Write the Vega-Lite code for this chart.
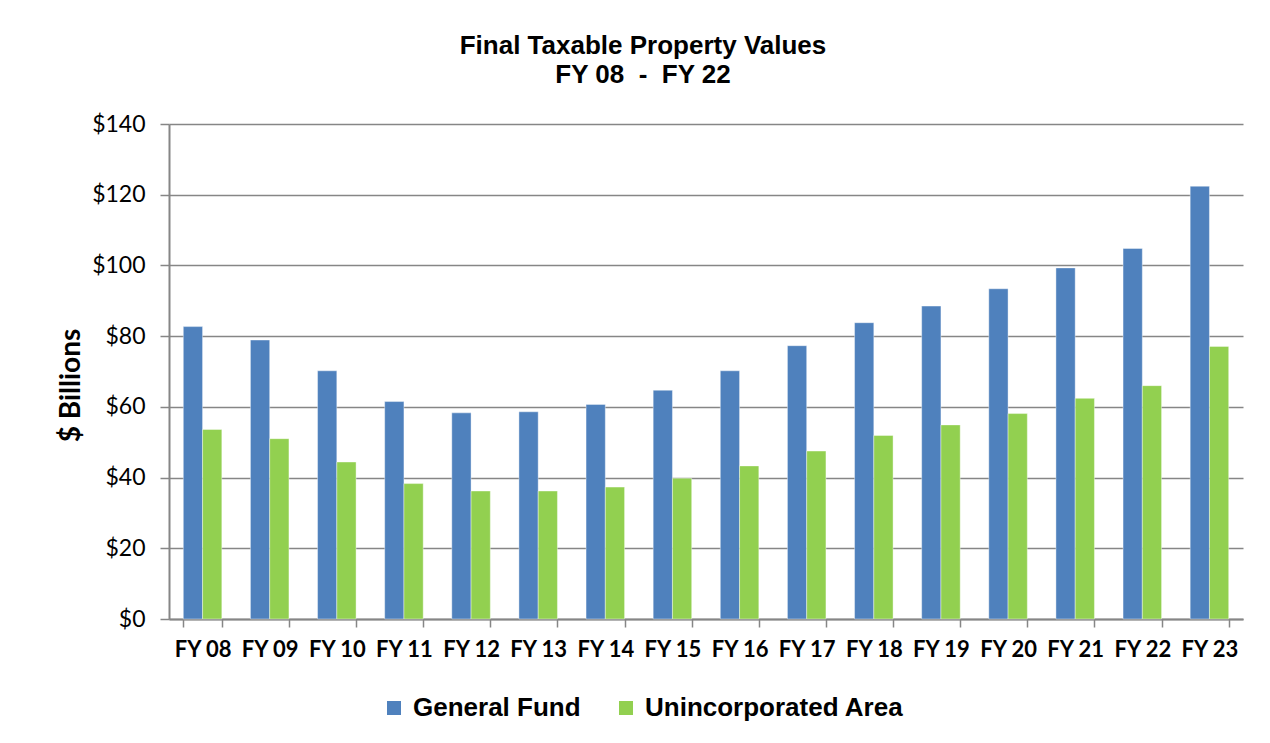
{
  "$schema": "https://vega.github.io/schema/vega-lite/v6.json",
  "autosize": {"type": "none"},
  "width": 1074,
  "height": 495,
  "padding": {"left": 169, "top": 124, "right": 27, "bottom": 124},
  "background": "white",
  "title": {
    "text": ["Final Taxable Property Values", "FY 08\u00a0 -\u00a0 FY 22"],
    "font": "Liberation Sans",
    "fontSize": 26,
    "fontWeight": "bold",
    "lineHeight": 29,
    "color": "black",
    "anchor": "middle",
    "frame": "group",
    "dx": -63,
    "offset": 25
  },
  "data": {
    "values": [
      {"fy": "FY 08", "series": "General Fund", "value": 82.7},
      {"fy": "FY 08", "series": "Unincorporated Area", "value": 53.6},
      {"fy": "FY 09", "series": "General Fund", "value": 78.9},
      {"fy": "FY 09", "series": "Unincorporated Area", "value": 51.0},
      {"fy": "FY 10", "series": "General Fund", "value": 70.2},
      {"fy": "FY 10", "series": "Unincorporated Area", "value": 44.4},
      {"fy": "FY 11", "series": "General Fund", "value": 61.5},
      {"fy": "FY 11", "series": "Unincorporated Area", "value": 38.3},
      {"fy": "FY 12", "series": "General Fund", "value": 58.3},
      {"fy": "FY 12", "series": "Unincorporated Area", "value": 36.2},
      {"fy": "FY 13", "series": "General Fund", "value": 58.6},
      {"fy": "FY 13", "series": "Unincorporated Area", "value": 36.2},
      {"fy": "FY 14", "series": "General Fund", "value": 60.7},
      {"fy": "FY 14", "series": "Unincorporated Area", "value": 37.3},
      {"fy": "FY 15", "series": "General Fund", "value": 64.7},
      {"fy": "FY 15", "series": "Unincorporated Area", "value": 39.8},
      {"fy": "FY 16", "series": "General Fund", "value": 70.2},
      {"fy": "FY 16", "series": "Unincorporated Area", "value": 43.3},
      {"fy": "FY 17", "series": "General Fund", "value": 77.3},
      {"fy": "FY 17", "series": "Unincorporated Area", "value": 47.5},
      {"fy": "FY 18", "series": "General Fund", "value": 83.8},
      {"fy": "FY 18", "series": "Unincorporated Area", "value": 51.9},
      {"fy": "FY 19", "series": "General Fund", "value": 88.5},
      {"fy": "FY 19", "series": "Unincorporated Area", "value": 54.9},
      {"fy": "FY 20", "series": "General Fund", "value": 93.4},
      {"fy": "FY 20", "series": "Unincorporated Area", "value": 58.1},
      {"fy": "FY 21", "series": "General Fund", "value": 99.3},
      {"fy": "FY 21", "series": "Unincorporated Area", "value": 62.4},
      {"fy": "FY 22", "series": "General Fund", "value": 104.8},
      {"fy": "FY 22", "series": "Unincorporated Area", "value": 66.0},
      {"fy": "FY 23", "series": "General Fund", "value": 122.4},
      {"fy": "FY 23", "series": "Unincorporated Area", "value": 77.1}
    ]
  },
  "mark": {"type": "bar", "stroke": "white", "strokeOpacity": 0.5, "strokeWidth": 0.8},
  "encoding": {
    "x": {
      "field": "fy",
      "type": "nominal",
      "sort": null,
      "scale": {"paddingInner": 0.426, "paddingOuter": 0.213},
      "axis": {
        "title": null,
        "labelAngle": 0,
        "labelFont": "Lato",
        "labelFontSize": 22,
        "labelFontWeight": "bold",
        "labelColor": "black",
        "labelPadding": 12,
        "tickBand": "extent",
        "tickSize": 8,
        "tickColor": "#868686",
        "tickWidth": 1.5,
        "domainColor": "#868686",
        "domainWidth": 2,
        "grid": false
      }
    },
    "xOffset": {"field": "series", "type": "nominal", "scale": {"paddingInner": 0, "paddingOuter": 0}},
    "y": {
      "field": "value",
      "type": "quantitative",
      "scale": {"domain": [0, 140], "nice": false},
      "axis": {
        "values": [0, 20, 40, 60, 80, 100, 120, 140],
        "labelExpr": "'$' + datum.value",
        "title": "$ Billions",
        "titleFont": "Lato",
        "titleFontSize": 28,
        "titleFontWeight": "bold",
        "titleColor": "black",
        "titleAngle": -90,
        "titleBaseline": "middle",
        "titleAlign": "center",
        "titleX": -98,
        "titleY": 261,
        "labelFont": "Lato",
        "labelFontSize": 23,
        "labelColor": "black",
        "labelPadding": 15,
        "tickSize": 9,
        "tickColor": "#868686",
        "tickWidth": 1.5,
        "domainColor": "#868686",
        "domainWidth": 2,
        "grid": true,
        "gridColor": "#868686",
        "gridWidth": 1.6
      }
    },
    "color": {
      "field": "series",
      "type": "nominal",
      "scale": {"domain": ["General Fund", "Unincorporated Area"], "range": ["#4F81BD", "#92D050"]},
      "legend": {
        "title": null,
        "orient": "none",
        "direction": "horizontal",
        "legendX": 212,
        "legendY": 571,
        "padding": 0,
        "symbolType": "square",
        "symbolSize": 196,
        "symbolStrokeWidth": 0,
        "symbolOpacity": 1,
        "labelFont": "Liberation Sans",
        "labelFontSize": 26,
        "labelFontWeight": "bold",
        "labelColor": "black",
        "labelOffset": 6,
        "labelLimit": 400,
        "columnPadding": 32
      }
    }
  },
  "config": {"view": {"stroke": null}}
}
